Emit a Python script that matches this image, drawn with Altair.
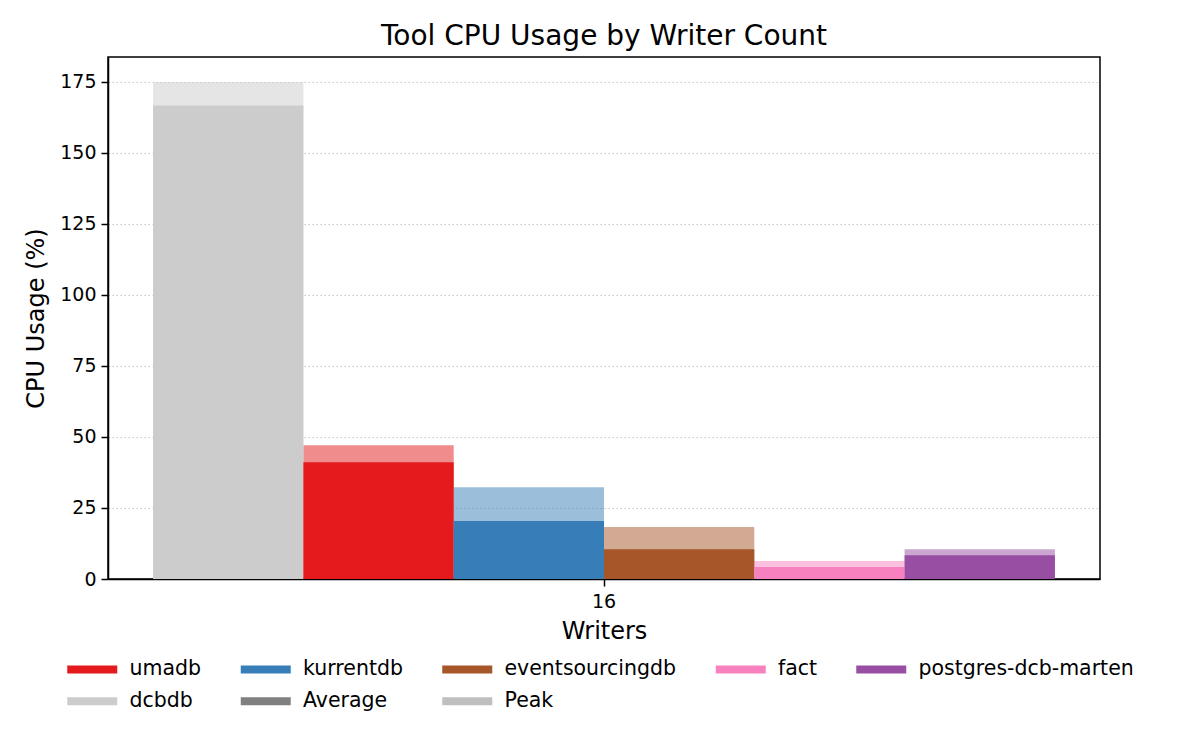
import altair as alt
import pandas as pd

writers = ["16"]
tools = ["dcbdb", "umadb", "kurrentdb", "eventsourcingdb", "fact", "postgres-dcb-marten"]
avg_cpu = [166.6, 41.1, 20.4, 10.5, 4.2, 8.4]
peak_cpu = [174.9, 47.1, 32.3, 18.3, 6.3, 10.5]

legend_labels = ["umadb", "kurrentdb", "eventsourcingdb", "fact", "postgres-dcb-marten",
                 "dcbdb", "Average", "Peak"]
legend_colors = ["#e41a1c", "#377eb8", "#a65628", "#f781bf", "#984ea3",
                 "#cccccc", "#808080", "#bfbfbf"]

y_ticks = [0, 25, 50, 75, 100, 125, 150, 175]

df = pd.DataFrame({
    "writers": writers * len(tools),
    "tool": tools,
    "avg": avg_cpu,
    "peak": peak_cpu,
})

FONT = "DejaVu Sans"

x_enc = alt.X("writers:N", title="Writers",
              scale=alt.Scale(paddingOuter=0.05, paddingInner=0),
              axis=alt.Axis(labelAngle=0, labelFontSize=19, titleFontSize=24,
                            labelPadding=6, titlePadding=8, tickSize=7,
                            tickWidth=1.5, tickColor="black",
                            domain=True, domainColor="black", domainWidth=1.5,
                            labelColor="black", titleColor="black",
                            titleFontWeight="normal", grid=False))
xoff = alt.XOffset("tool:N", sort=tools,
                   scale=alt.Scale(paddingInner=0, paddingOuter=0))
color_enc = alt.Color("tool:N",
                      scale=alt.Scale(domain=legend_labels, range=legend_colors),
                      legend=alt.Legend(
                          title=None, orient="none", legendX=-41, legendY=602,
                          direction="horizontal", columns=5,
                          symbolType="M-2.5,-0.4H2.5V0.4H-2.5Z", symbolSize=400,
                          symbolOffset=15,
                          symbolStrokeWidth=0, symbolOpacity=1,
                          labelFontSize=20.5, labelFont=FONT, labelColor="black",
                          labelOffset=27, columnPadding=38.5, rowPadding=11,
                          labelLimit=400))

y_scale = alt.Scale(domain=[0, 183.7], nice=False, zero=True)

peak_layer = alt.Chart(df).mark_bar(opacity=0.5, strokeWidth=0).encode(
    x=x_enc,
    xOffset=xoff,
    y=alt.Y("peak:Q", title="CPU Usage (%)", scale=y_scale,
            axis=alt.Axis(values=y_ticks, labelFontSize=19, titleFontSize=24,
                          tickSize=7, tickWidth=1.5, tickColor="black",
                          labelPadding=5, titlePadding=11,
                          domain=True, domainColor="black", domainWidth=1.5,
                          labelColor="black", titleColor="black",
                          titleFontWeight="normal",
                          grid=True, gridColor="#c8c8c8", gridDash=[1.5, 2.5],
                          gridWidth=1.2)),
    color=color_enc,
)

avg_layer = alt.Chart(df).mark_bar(opacity=1, strokeWidth=0).encode(
    x=x_enc,
    xOffset=xoff,
    y=alt.Y("avg:Q", scale=y_scale),
    color=color_enc,
)

chart = alt.layer(peak_layer, avg_layer).properties(
    width=992, height=522,
    title=alt.TitleParams("Tool CPU Usage by Writer Count", fontSize=28,
                          font=FONT, fontWeight="normal", color="black",
                          offset=6),
    autosize=alt.AutoSizeParams(type="none"),
    padding={"left": 100, "top": 49, "right": 92, "bottom": 163},
).configure(font=FONT).configure_view(
    stroke="black", strokeWidth=1.5
).configure_axis(labelFont=FONT, titleFont=FONT)

chart.save("out.html", embed_options={"renderer": "svg", "actions": False})
